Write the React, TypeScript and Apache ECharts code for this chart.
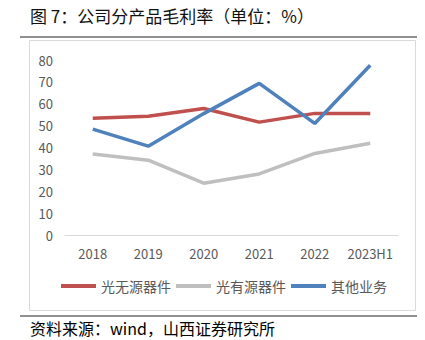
import React, { useEffect, useRef } from "react";
import * as echarts from "echarts";

const categories = ["2018", "2019", "2020", "2021", "2022", "2023H1"];
const passive = [53.4, 54.3, 57.8, 51.6, 55.6, 55.6];
const active = [37, 34.2, 23.7, 27.9, 37.3, 41.9];
const other = [48.4, 40.6, 55.5, 69.3, 51, 77.6];
const seriesNames = ["光无源器件", "光有源器件", "其他业务"];
const colors = ["#C0504D", "#BFBFBF", "#4F81BD"];

const FONT = "'Noto Sans CJK SC', 'Noto Sans', sans-serif";

export default function App() {
  const ref = useRef<HTMLDivElement>(null);
  useEffect(() => {
    const chart = echarts.init(ref.current!, null, { renderer: "svg" });
    const datas = [passive, active, other];
    chart.setOption({
      animation: false,
      backgroundColor: "#ffffff",
      textStyle: { fontFamily: FONT },
      grid: { left: 65, right: 27, top: 60, bottom: 105 },
      xAxis: {
        type: "category",
        data: categories,
        boundaryGap: true,
        axisLine: { lineStyle: { color: "#D9D9D9", width: 1 } },
        axisTick: { show: false },
        axisLabel: { color: "#595959", fontSize: 13, margin: 12, interval: 0, fontFamily: FONT },
      },
      yAxis: {
        type: "value",
        min: 0,
        max: 80,
        interval: 10,
        axisLine: { show: false },
        axisTick: { show: false },
        splitLine: { show: false },
        axisLabel: { color: "#595959", fontSize: 13, margin: 12, fontFamily: FONT },
      },
      legend: {
        bottom: 42,
        left: 56,
        icon: "rect",
        itemWidth: 35,
        itemHeight: 4,
        itemGap: 5,
        textStyle: { color: "#595959", fontSize: 14, fontFamily: FONT },
        data: seriesNames,
      },
      series: seriesNames.map((n, i) => ({
        name: n,
        type: "line",
        data: datas[i],
        symbol: "none",
        lineStyle: { color: colors[i], width: 3.5 },
        itemStyle: { color: colors[i] },
      })),
      graphic: [
        {
          type: "text",
          left: 30,
          top: 7,
          style: {
            text: "图 7：公司分产品毛利率（单位：%）",
            fill: "#111",
            font: `normal 17px ${FONT}`,
          },
        },
        {
          type: "line",
          shape: { x1: 20, y1: 37, x2: 417, y2: 37 },
          style: { stroke: "#222", lineWidth: 1.2 },
        },
        {
          type: "rect",
          shape: { x: 29.5, y: 40.5, width: 386, height: 270 },
          style: { fill: "none", stroke: "#D9D9D9", lineWidth: 1 },
        },
        {
          type: "line",
          shape: { x1: 20, y1: 316, x2: 417, y2: 316 },
          style: { stroke: "#222", lineWidth: 1 },
        },
        {
          type: "text",
          left: 30,
          top: 320,
          style: {
            text: "资料来源：wind，山西证券研究所",
            fill: "#000",
            font: `16px ${FONT}`,
          },
        },
      ],
    });
    return () => chart.dispose();
  }, []);
  return (
    <div
      ref={ref}
      style={{ position: "fixed", left: 0, top: 0, width: 425, height: 340 }}
    />
  );
}
